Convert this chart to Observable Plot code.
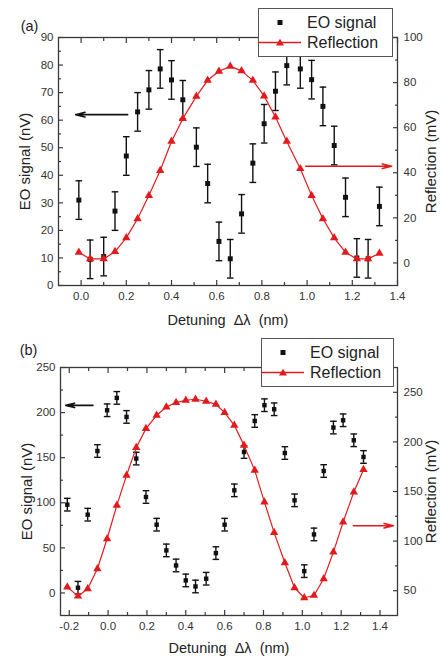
<!DOCTYPE html>
<html><head><meta charset="utf-8">
<script src="https://cdn.jsdelivr.net/npm/d3@7"></script>
<script src="https://cdn.jsdelivr.net/npm/@observablehq/plot@0.6"></script>
<style>
body{margin:0;background:#fff;}
#wrap{position:relative;width:440px;height:660px;overflow:hidden;font-family:"Liberation Sans",Arial,sans-serif;}
.panel{position:absolute;left:0;width:440px;height:330px;}
.legend{position:absolute;background:#fff;border:1px solid #555;box-sizing:border-box;}
</style></head><body><div id="wrap"></div>
<script>
const seriesNames = ["EO signal", "Reflection"];
const panelTags = ["(a)", "(b)"];
const xTitle = "Detuning\u00a0\u00a0\u0394\u03bb\u00a0\u00a0(nm)";
const yTitle = "EO signal (nV)";
const rTitle = "Reflection (mV)";

// Panel (a)
const xA = [-0.01, 0.04, 0.10, 0.15, 0.20, 0.25, 0.30, 0.35, 0.40, 0.45, 0.51, 0.56, 0.61, 0.66, 0.71, 0.76, 0.81, 0.86, 0.91, 0.97, 1.02, 1.07, 1.12, 1.17, 1.22, 1.27, 1.32];
const eoA = [31, 9.5, 10.5, 27, 47, 63, 71, 78.6, 74.6, 67.4, 50.2, 37, 16, 9.7, 26, 44.4, 58.7, 70.5, 79.8, 78.6, 74.7, 65, 50.8, 32, 10, 9.7, 28.7];
const errA = [7, 7, 7, 7, 7, 7, 7, 7, 7, 7, 7, 7, 7, 7, 7, 7, 7, 7, 7, 7, 7, 7, 7, 7, 7, 7, 7];
const reflA = [4.7, 1.8, 1.8, 5.0, 11.1, 19.6, 29.9, 41.0, 53.9, 64.0, 73.9, 81.0, 85.0, 87.2, 85.2, 81.0, 74.0, 64.7, 53.9, 41.8, 29.9, 19.6, 11.1, 4.7, 1.8, 1.8, 4.3];
const xTicksA = [0, 0.2, 0.4, 0.6, 0.8, 1.0, 1.2, 1.4];
const xMinorA = [-0.1, 0.1, 0.3, 0.5, 0.7, 0.9, 1.1, 1.3];
const yTicksA = [0, 10, 20, 30, 40, 50, 60, 70, 80, 90];
const yMinorA = [5, 15, 25, 35, 45, 55, 65, 75, 85];
const rTicksA = [0, 20, 40, 60, 80, 100];
const rMinorA = [-10, 10, 30, 50, 70, 90];
const arrowsA = [{x1: 0.206, x2: -0.024, y: 62, axis: "left"}, {x1: 0.994, x2: 1.374, y: 42.9, axis: "right"}];

// Panel (b)
const xB = [-0.21, -0.155, -0.105, -0.055, -0.005, 0.045, 0.095, 0.145, 0.195, 0.25, 0.30, 0.35, 0.40, 0.45, 0.505, 0.555, 0.60, 0.65, 0.70, 0.755, 0.805, 0.855, 0.91, 0.96, 1.01, 1.06, 1.11, 1.16, 1.21, 1.265, 1.315];
const eoB = [97.9, 5.8, 86.8, 157.4, 202.6, 216.3, 195.2, 149.0, 106.4, 75.7, 47.2, 30.5, 13.9, 7.2, 15.8, 44.2, 75.7, 113.8, 156.3, 190.7, 208.2, 203.7, 155.2, 102.7, 24.2, 64.9, 135.2, 183.4, 191.5, 169.3, 150.8];
const errB = [7, 7, 7, 7, 7, 7, 7, 7, 7, 7, 7, 7, 7, 7, 7, 7, 7, 7, 7, 7, 7, 7, 7, 7, 7, 7, 7, 7, 7, 7, 7];
const reflB = [53.6, 44.5, 51.9, 72.1, 102.4, 136.0, 166.3, 194.2, 213.4, 226.8, 235.2, 239.6, 242.0, 243.0, 241.0, 237.9, 229.5, 216.7, 196.5, 171.3, 139.3, 108.5, 78.2, 53.0, 42.9, 45.2, 62.0, 88.9, 119.1, 149.4, 172.0];
const xTicksB = [-0.2, 0, 0.2, 0.4, 0.6, 0.8, 1.0, 1.2, 1.4];
const xMinorB = [-0.1, 0.1, 0.3, 0.5, 0.7, 0.9, 1.1, 1.3];
const yTicksB = [0, 50, 100, 150, 200, 250];
const yMinorB = [25, 75, 125, 175, 225];
const rTicksB = [50, 100, 150, 200, 250];
const rMinorB = [75, 125, 175, 225, 275];
const arrowsB = [{x1: -0.078, x2: -0.218, y: 208, axis: "left"}, {x1: 1.263, x2: 1.469, y: 115.5, axis: "right"}];

const RED = "#e31a1c";
const INK = "#111";
const AX = "#3a3a3a";
const cap = {draw(ctx, size) { const w = Math.sqrt(size / Math.PI); ctx.moveTo(-w, 0); ctx.lineTo(w, 0); }};

function makePanel(c) {
  const toL = d3.scaleLinear().domain(c.rDomain).range(c.yDomain);
  const eo = c.x.map((x, i) => ({x, y: c.eo[i], e: c.err[i]}));
  const refl = c.x.map((x, i) => ({x, y: toL(c.refl[i])}));
  const arrows = c.arrows.map(a => ({...a, yy: a.axis === "right" ? toL(a.y) : a.y, color: a.axis === "right" ? RED : INK}));
  const fmt = d => d.toFixed(1);
  const mid = {textAnchor: "middle", lineAnchor: "middle"};
  return Plot.plot({
    width: 440, height: 330,
    marginTop: c.mt, marginBottom: 45, marginLeft: c.ml, marginRight: 43,
    style: {fontFamily: "Liberation Sans, Arial, sans-serif", fontSize: "11.5px", background: "white", color: AX, overflow: "visible"},
    x: {domain: c.xDomain, axis: null},
    y: {domain: c.yDomain, axis: null},
    marks: [
      Plot.frame({stroke: AX, strokeWidth: 1.3}),
      // bottom
      Plot.axisX(c.xTicks, {anchor: "bottom", tickSize: 0, tickPadding: 6, tickFormat: fmt, label: null, fill: "#333"}),
      Plot.axisX(c.xTicks, {anchor: "bottom", tickSize: -5, fill: "none", label: null, stroke: AX, strokeWidth: 1.2}),
      Plot.axisX(c.xMinor.filter(v => v > c.xDomain[0] && v < c.xDomain[1]), {anchor: "bottom", tickSize: -3, fill: "none", label: null, stroke: AX, strokeWidth: 1.2}),
      // top
      Plot.axisX(c.xTicks, {anchor: "top", tickSize: -5, fill: "none", label: null, stroke: AX, strokeWidth: 1.2}),
      Plot.axisX(c.xMinor.filter(v => v > c.xDomain[0] && v < c.xDomain[1]), {anchor: "top", tickSize: -3, fill: "none", label: null, stroke: AX, strokeWidth: 1.2}),
      // left
      Plot.axisY(c.yTicks, {anchor: "left", tickSize: 0, tickPadding: 5, label: null, fill: "#333"}),
      Plot.axisY(c.yTicks, {anchor: "left", tickSize: -5, fill: "none", label: null, stroke: AX, strokeWidth: 1.2}),
      Plot.axisY(c.yMinor, {anchor: "left", tickSize: -3, fill: "none", label: null, stroke: AX, strokeWidth: 1.2}),
      // right
      Plot.axisY(c.rTicks.map(toL), {anchor: "right", tickSize: 0, tickPadding: 6, label: null, fill: "#333", tickFormat: d => String(Math.round(toL.invert(d)))}),
      Plot.axisY(c.rTicks.map(toL), {anchor: "right", tickSize: -5, fill: "none", label: null, stroke: AX, strokeWidth: 1.2}),
      Plot.axisY(c.rMinor.map(toL).filter(v => v > c.yDomain[0] && v < c.yDomain[1]), {anchor: "right", tickSize: -3, fill: "none", label: null, stroke: AX, strokeWidth: 1.2}),
      // EO signal
      Plot.ruleX(eo, {x: "x", y1: d => d.y - d.e, y2: d => d.y + d.e, stroke: INK, strokeWidth: 1.4}),
      Plot.dot(eo, {x: "x", y: d => d.y - d.e, symbol: cap, r: 3.3, stroke: INK, fill: "none", strokeWidth: 1.4}),
      Plot.dot(eo, {x: "x", y: d => d.y + d.e, symbol: cap, r: 3.3, stroke: INK, fill: "none", strokeWidth: 1.4}),
      Plot.dot(eo, {x: "x", y: "y", symbol: "square", r: c.sq, fill: INK}),
      // Reflection
      Plot.line(refl, {x: "x", y: "y", stroke: RED, strokeWidth: 1.2}),
      Plot.dot(refl, {x: "x", y: "y", symbol: "triangle", r: 3.1, fill: RED}),
      // arrows
      Plot.arrow(arrows, {x1: "x1", x2: "x2", y1: "yy", y2: "yy", stroke: "color", strokeWidth: 1.6, headLength: 9, headAngle: 28}),
      // titles
      Plot.text([yTitle], {text: d => d, frameAnchor: "left", dx: -33, rotate: -90, fontSize: 15, fill: "#222", ...mid}),
      Plot.text([rTitle], {text: d => d, frameAnchor: "right", dx: 34, rotate: -90, fontSize: 15, fill: "#222", ...mid}),
      Plot.text([xTitle], {text: d => d, frameAnchor: "bottom", dy: c.xtDy, fontSize: 14.5, fill: "#222", ...mid}),
      Plot.text([c.tag], {text: d => d, frameAnchor: "top-left", dx: c.tagDx, dy: c.tagDy, fontSize: 14.5, fill: "#222", ...mid})
    ]
  });
}

function legend(left, top, w, h) {
  const d = document.createElement("div");
  d.className = "legend";
  Object.assign(d.style, {left: left + "px", top: top + "px", width: w + "px", height: h + "px"});
  d.innerHTML = `<svg width="${w}" height="${h}" style="position:absolute;left:-1px;top:-1px;overflow:visible;font-family:'Liberation Sans',Arial,sans-serif">
    <rect x="19.5" y="12" width="5" height="5" fill="${INK}"/>
    <text x="49" y="20" font-size="16" fill="#222">${seriesNames[0]}</text>
    <line x1="0" x2="43" y1="34.5" y2="34.5" stroke="${RED}" stroke-width="1.3"/>
    <path d="M22,30.8 L26,37.5 L18,37.5 Z" fill="${RED}"/>
    <text x="49" y="40" font-size="16" fill="#222">${seriesNames[1]}</text>
  </svg>`;
  return d;
}

const wrap = document.getElementById("wrap");
const pa = makePanel({x: xA, eo: eoA, err: errA, refl: reflA, xDomain: [-0.1, 1.4], yDomain: [0, 90], rDomain: [-10, 100],
  xTicks: xTicksA, xMinor: xMinorA, yTicks: yTicksA, yMinor: yMinorA, rTicks: rTicksA, rMinor: rMinorA, arrows: arrowsA,
  tag: panelTags[0], tagDx: -29, tagDy: -11, mt: 37, ml: 58, xtDy: 35, sq: 2.8});
const pb = makePanel({x: xB, eo: eoB, err: errB, refl: reflB, xDomain: [-0.245, 1.49], yDomain: [-25, 250], rDomain: [25, 275],
  xTicks: xTicksB, xMinor: xMinorB, yTicks: yTicksB, yMinor: yMinorB, rTicks: rTicksB, rMinor: rMinorB, arrows: arrowsB,
  tag: panelTags[1], tagDx: -32, tagDy: -17, mt: 37, ml: 60, xtDy: 33, sq: 2.5});
const da = document.createElement("div"); da.className = "panel"; da.style.top = "0px"; da.appendChild(pa);
const db = document.createElement("div"); db.className = "panel"; db.style.top = "330px"; db.appendChild(pb);
wrap.appendChild(da); wrap.appendChild(db);
wrap.appendChild(legend(258, 8, 135, 49));
wrap.appendChild(legend(261, 338, 133, 49));
</script></body></html>
